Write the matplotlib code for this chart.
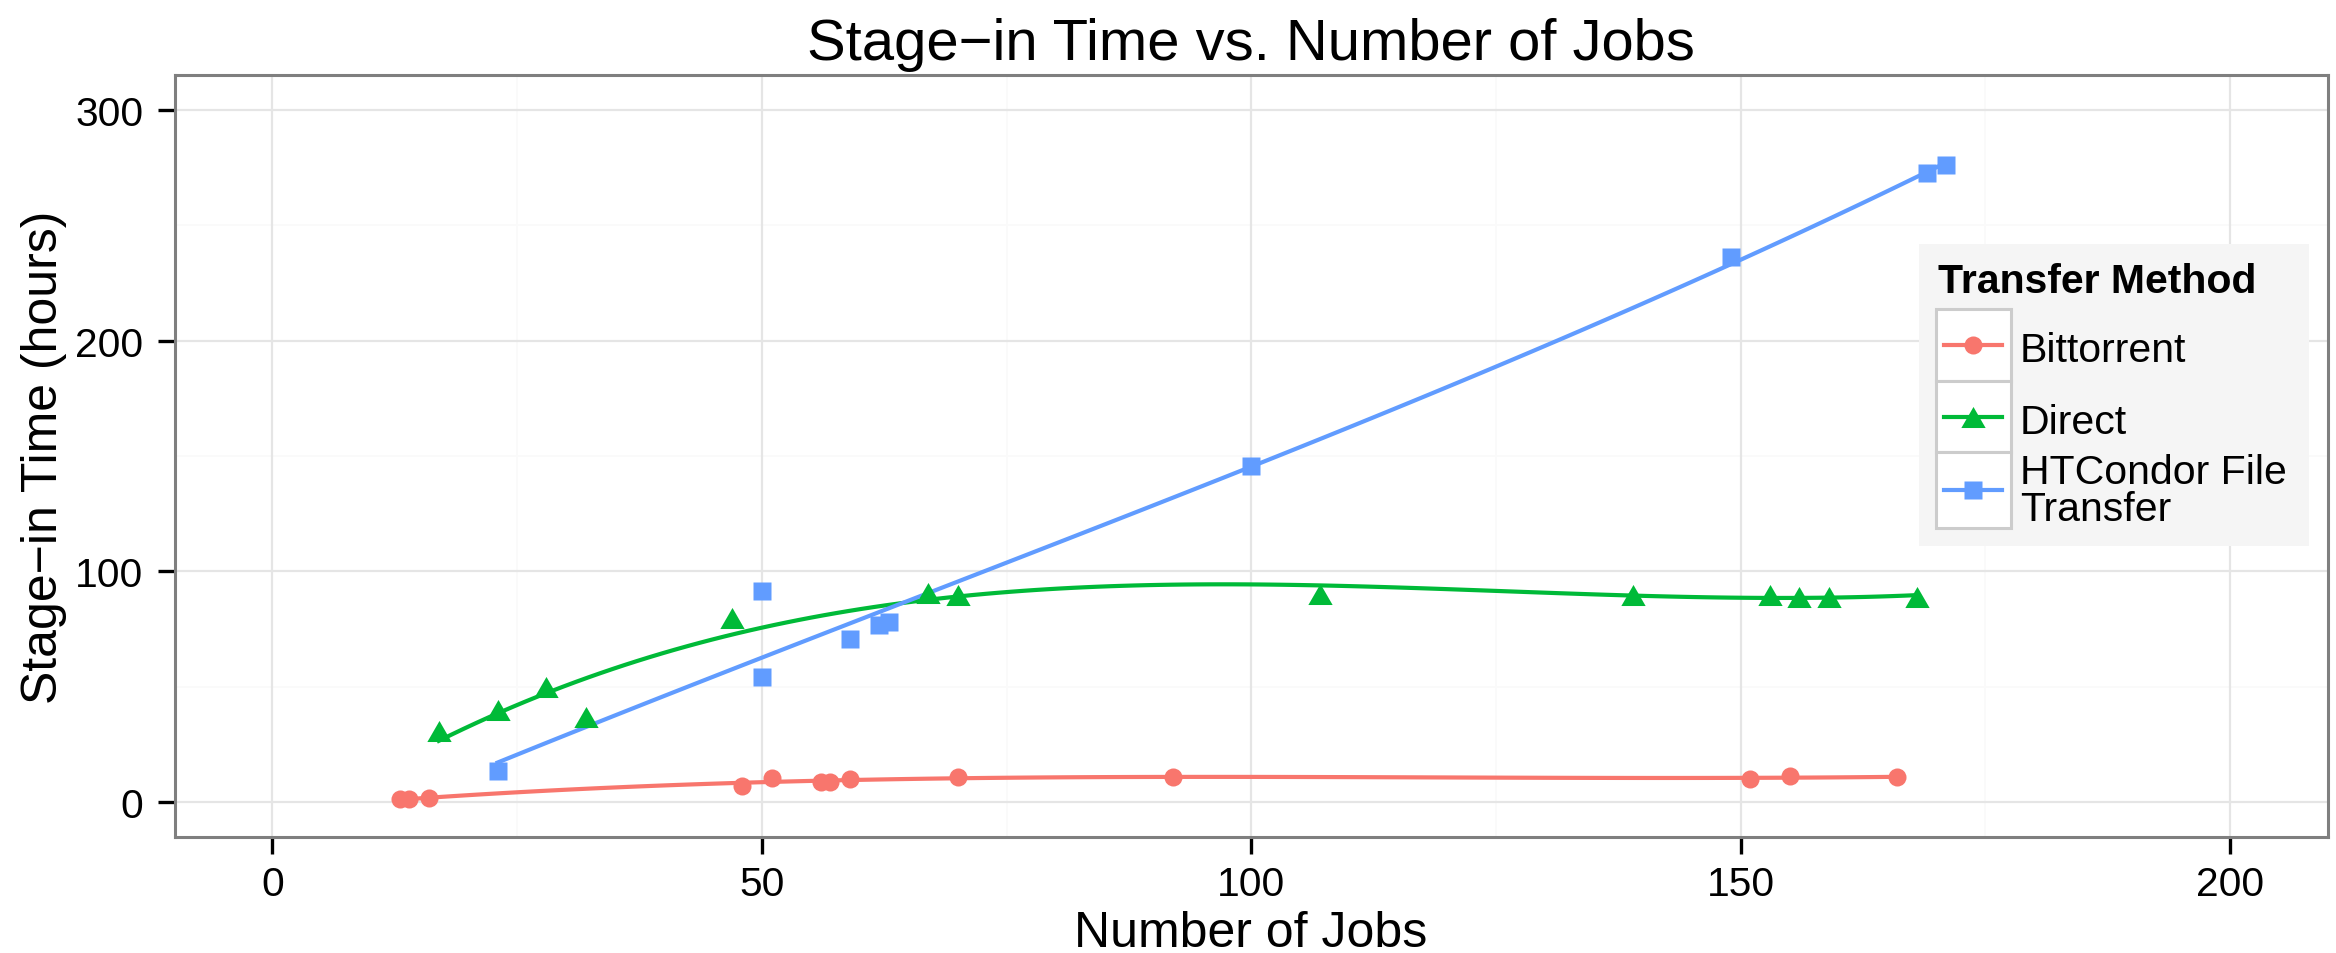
import numpy as np
import matplotlib
matplotlib.use("Agg")
import matplotlib.pyplot as plt
from matplotlib.lines import Line2D
from matplotlib.patches import Rectangle

# Stage-in time (hours) per run, by number of jobs and transfer method
bt_jobs = [13, 14, 16, 48, 51, 56, 57, 59, 70, 92, 151, 155, 166]
bt_hours = [1.4, 1.4, 1.8, 7.2, 10.6, 8.9, 8.9, 10.1, 10.8, 10.8, 10.1, 11.4, 10.9]

direct_jobs = [17, 23, 28, 32, 47, 67, 70, 107, 139, 153, 156, 159, 168]
direct_hours = [31.0, 39.8, 50.0, 37.0, 80.0, 90.6, 90.0, 90.1, 90.0, 89.6, 88.9, 88.9, 88.9]

htc_jobs = [23, 50, 50, 59, 62, 63, 100, 149, 169, 171]
htc_hours = [13.4, 91.6, 54.4, 70.9, 76.6, 78.1, 145.7, 236.0, 272.5, 275.9]

methods = ["Bittorrent", "Direct", "HTCondor File\nTransfer"]
colors = ["#F8766D", "#00BA38", "#619CFF"]
# equilateral triangle, centred on its bounding box
tri = [(-1, -0.866), (1, -0.866), (0, 0.866), (-1, -0.866)]
markers = ["o", tri, "s"]
msizes = [13, 17.5, 13]

x_ticks = [0, 50, 100, 150, 200]
y_ticks = [0, 100, 200, 300]

FONT = "Liberation Sans"
W, H = 2336, 954
LW = 3.0


def smooth(x, y, grid, deg=3):
    # least-squares polynomial trend through the points
    coef = np.polyfit(np.asarray(x, float), np.asarray(y, float), deg)
    return np.polyval(coef, grid)


def px(x, y):
    return x / W, 1 - y / H


fig = plt.figure(figsize=(W / 100, H / 100), dpi=100)
ax = fig.add_axes([174.5 / W, 1 - 838 / H, (2328 - 174.5) / W, (838 - 76) / H])

ax.set_xlim(-10, 210)
ax.set_ylim(-15, 315)

# grid
for v in [25, 75, 125, 175]:
    ax.axvline(v, color="#FAFAFA", lw=1.4, zorder=0)
for v in [50, 150, 250]:
    ax.axhline(v, color="#FAFAFA", lw=1.4, zorder=0)
for v in x_ticks:
    ax.axvline(v, color="#E5E5E5", lw=1.6, zorder=0)
for v in y_ticks:
    ax.axhline(v, color="#E5E5E5", lw=1.6, zorder=0)

series = [(bt_jobs, bt_hours), (direct_jobs, direct_hours), (htc_jobs, htc_hours)]
for (xs, ys), c, m, ms in zip(series, colors, markers, msizes):
    grid = np.linspace(min(xs), max(xs), 120)
    ax.plot(grid, smooth(xs, ys, grid), color=c, lw=LW, zorder=2)
    ax.plot(xs, ys, ls="none", marker=m, ms=ms, color=c, mec="none", zorder=3)

ax.set_xticks(x_ticks)
ax.set_yticks(y_ticks)
ax.tick_params(axis="both", length=12.5, width=2.4, color="black",
               labelsize=29.3, direction="out")
ax.tick_params(axis="y", pad=10)
ax.tick_params(axis="x", pad=8)
for lab in ax.get_xticklabels() + ax.get_yticklabels():
    lab.set_fontfamily(FONT)
for s in ax.spines.values():
    s.set_color("#7F7F7F")
    s.set_linewidth(2.2)

# titles
fig.text(*px(1251, 60), "Stage\u2212in Time vs. Number of Jobs", ha="center",
         va="baseline", fontsize=41.8, family=FONT)
fig.text(*px(1251, 947), "Number of Jobs", ha="center", va="baseline",
         fontsize=36, family=FONT)
fig.text(*px(44, 457), "Stage\u2212in Time (hours)", ha="center", va="center",
         rotation=90, fontsize=36, family=FONT)

# legend
fig.patches.append(Rectangle(px(1919, 547), 390 / W, 302 / H, transform=fig.transFigure,
                             facecolor="#F5F5F5", edgecolor="none", zorder=5))
fig.text(*px(1938, 293), "Transfer Method", ha="left", va="baseline",
         fontsize=29.5, fontweight="bold", family=FONT, zorder=6)
rows = [(310, 382), (382, 453), (453, 529)]
label_y = [(361.7, "baseline"), (434, "baseline"), (491.7, "center_baseline")]
for (top, bot), c, m, ms, name, (ly, lva) in zip(rows, colors, markers, msizes, methods, label_y):
    fig.patches.append(Rectangle(px(1936, bot), 75 / W, (bot - top) / H,
                                 transform=fig.transFigure, facecolor="white",
                                 edgecolor="#CCCCCC", lw=2.2, zorder=6))
    cy = (top + bot) / 2
    x0, y0 = px(1944, cy)
    x1, _ = px(2002, cy)
    fig.lines.append(Line2D([x0, x1], [y0, y0], transform=fig.transFigure,
                            color=c, lw=LW, zorder=7))
    fig.lines.append(Line2D([(x0 + x1) / 2], [y0], transform=fig.transFigure,
                            marker=m, ms=ms, color=c, mec="none", ls="none", zorder=8))
    fig.text(*px(2020, ly), name, ha="left", va="center" if "\n" in name else lva,
             fontsize=29.5, family=FONT, zorder=7, linespacing=0.95)

fig.savefig("out.png", dpi=100)
